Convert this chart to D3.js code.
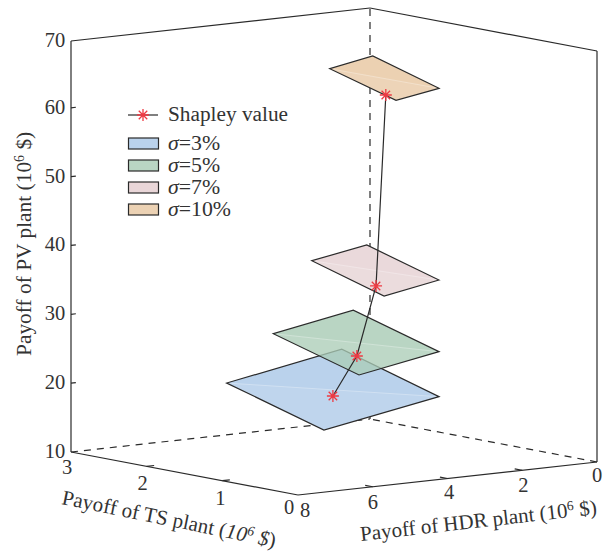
<!DOCTYPE html>
<html lang="en">
<head>
    <meta charset="UTF-8">
    <title>Shapley value payoffs</title>
    <script src="https://d3js.org/d3.v7.min.js"></script>
    <style>
        html, body {margin: 0; padding: 0; background: #fff;}
        text {font-family: "Liberation Serif", serif; fill: #333;}
    </style>
</head>
<body>
    <div id="plot"></div>

    <script>
        // axis ticks
        let hdrTicks = [0, 2, 4, 6, 8];
        let tsTicks = [0, 1, 2, 3];
        let pvTicks = [10, 20, 30, 40, 50, 60, 70];

        // corners of each sigma patch, order: right, bottom, left, top
        let blueHdr = [2, 5.08, 5.08, 2];
        let greenHdr = [2, 4.14, 4.14, 2];
        let pinkHdr = [2, 3.47, 3.47, 2];
        let orangeHdr = [2, 3.15, 3.15, 2];
        let blueTs = [1.1, 1.1, 2.385, 2.385];
        let greenTs = [1.1, 1.1, 2.233, 2.233];
        let pinkTs = [1.1, 1.1, 2.055, 2.055];
        let orangeTs = [1.1, 1.1, 1.976, 1.976];
        let bluePv = [18.40, 15.40, 19.55, 22.61];
        let greenPv = [24.93, 22.83, 26.47, 28.59];
        let pinkPv = [35.34, 33.90, 37.04, 38.44];
        let orangePv = [63.19, 62.14, 64.90, 66.06];

        // Shapley values for sigma = 3, 5, 7, 10 %
        let shapleyHdr = [3.76, 3.52, 3.26, 3.14];
        let shapleyTs = [1.633, 1.435, 1.31, 1.24];
        let shapleyPv = [18.44, 24.52, 34.80, 62.61];

        let sigmaLabels = ['=3%', '=5%', '=7%', '=10%'];
        let patchColors = ['#bad2ec', '#a2c7af', '#e5cfd2', '#e9c9a4'];
        let patchAlpha = [1, 0.75, 0.8, 0.85];

        let patches = [
            {hdr: blueHdr, ts: blueTs, pv: bluePv},
            {hdr: greenHdr, ts: greenTs, pv: greenPv},
            {hdr: pinkHdr, ts: pinkTs, pv: pinkPv},
            {hdr: orangeHdr, ts: orangeTs, pv: orangePv}
        ];

        let svg = d3.select('#plot')
                    .append('svg')
                        .attr('width', 611)
                        .attr('height', 554)
                        .style('display', 'block');

        // fixed view: every data axis adds its own screen offset
        let hdrX = d3.scaleLinear().domain([0, 8]).range([597, 298]);
        let hdrY = d3.scaleLinear().domain([0, 8]).range([462, 495]);
        let tsX = d3.scaleLinear().domain([0, 3]).range([0, -227]);
        let tsY = d3.scaleLinear().domain([0, 3]).range([0, -43]);
        let pvY = d3.scaleLinear().domain([10, 69.7]).range([0, -411]);

        function project(h, t, p){
            return [hdrX(h) + tsX(t), hdrY(h) + tsY(t) + pvY(p)];
        }
        let line = d3.line();
        let ink = '#2a2a2a';

        function seg(g, a, b, dash){
            g.append('path')
                .attr('d', line([a, b]))
                .attr('fill', 'none')
                .attr('stroke', ink)
                .attr('stroke-width', 1.2)
                .attr('stroke-dasharray', dash ? '7,6' : null);
        }

        let box = svg.append('g');
        let pvTop = pvY.domain()[1];

        // hidden edges at the back corner
        seg(box, project(0, 3, 10), project(0, 3, pvTop), true);
        seg(box, project(8, 3, 10), project(0, 3, 10), true);
        seg(box, project(0, 0, 10), project(0, 3, 10), true);

        // outline
        seg(box, project(8, 3, pvTop), project(8, 3, 10));
        seg(box, project(8, 3, 10), project(8, 0, 10));
        seg(box, project(8, 0, 10), project(0, 0, 10));
        seg(box, project(0, 0, 10), project(0, 0, pvTop));
        seg(box, project(8, 3, pvTop), project(0, 3, pvTop));
        seg(box, project(0, 3, pvTop), project(0, 0, pvTop));

        // ticks
        pvTicks.filter(d => d > 10 && d < 70).forEach(function(d){
            seg(box, project(8, 3, d), project(7.87, 3, d));
        });
        tsTicks.filter(d => d > 0 && d < 3).forEach(function(d){
            seg(box, project(8, d, 10), project(7.8, d, 10));
        });
        hdrTicks.filter(d => d > 0 && d < 8).forEach(function(d){
            seg(box, project(d, 0, 10), project(d, 0.1, 10));
        });

        // tick labels
        function tickLabel(p, txt, dx, dy){
            svg.append('text')
                .attr('x', p[0] + dx)
                .attr('y', p[1] + dy)
                .attr('text-anchor', 'middle')
                .attr('dominant-baseline', 'central')
                .attr('font-size', 20.5)
                .text(txt);
        }
        pvTicks.forEach(function(d){
            let p = project(8, 3, Math.min(d, pvTop));
            tickLabel(p, d, -16, -1);
        });
        let tsNudge = {3: [-4, 15], 2: [-4, 17], 1: [-2, 17], 0: [-9, 12]};
        tsTicks.forEach(function(d){
            tickLabel(project(8, d, 10), d, tsNudge[d][0], tsNudge[d][1]);
        });
        let hdrNudge = {8: [7, 15], 6: [0, 15], 4: [1.5, 13], 2: [1, 15], 0: [0, 13]};
        hdrTicks.forEach(function(d){
            tickLabel(project(d, 0, 10), d, hdrNudge[d][0], hdrNudge[d][1]);
        });

        // axis titles
        function axisTitle(x, y, angle, size, name, italicUnit){
            let t = svg.append('text')
                .attr('transform', 'translate(' + x + ', ' + y + ') rotate(' + angle + ')')
                .attr('font-size', size);
            t.append('tspan').text(name + ' (');
            let unit = t.append('tspan').attr('font-style', italicUnit ? 'italic' : null);
            unit.append('tspan').text('10');
            unit.append('tspan').attr('font-size', size * 0.65).attr('dy', -7).text('6');
            unit.append('tspan').attr('dy', 7).text(' $');
            t.append('tspan').text(')');
        }
        axisTitle(31, 356, -90, 21.4, 'Payoff of PV plant', false);
        axisTitle(61, 504, 11.5, 21, 'Payoff of TS plant', true);
        axisTitle(361, 541, -6.5, 21, 'Payoff of HDR plant', false);

        // patches: white base first so the dashed edges stay hidden
        patches.forEach(function(d){
            let pts = d.hdr.map((h, k) => project(h, d.ts[k], d.pv[k]));
            svg.append('path')
                .attr('d', line(pts) + 'Z')
                .attr('fill', '#fff');
        });
        patches.forEach(function(d, i){
            let pts = d.hdr.map((h, k) => project(h, d.ts[k], d.pv[k]));
            let g = svg.append('g');
            // two triangles, the lower one slightly paler
            g.append('path')
                .attr('d', line(pts) + 'Z')
                .attr('fill', patchColors[i])
                .attr('fill-opacity', patchAlpha[i])
                .attr('stroke', 'none');
            g.append('path')
                .attr('d', line([pts[0], pts[1], pts[2]]) + 'Z')
                .attr('fill', '#fff')
                .attr('fill-opacity', 0.08);
            g.append('path')
                .attr('d', line([pts[0], pts[2]]))
                .attr('stroke', '#fff')
                .attr('stroke-opacity', 0.3)
                .attr('stroke-width', 1);
            g.append('path')
                .attr('d', line(pts) + 'Z')
                .attr('fill', 'none')
                .attr('stroke', ink)
                .attr('stroke-width', 1.2);
        });

        // Shapley path and markers
        let shapleyPts = shapleyHdr.map((h, k) => project(h, shapleyTs[k], shapleyPv[k]));

        function star(p, r){
            let path = d3.path();
            d3.range(4).forEach(function(k){
                let a = k * Math.PI / 4;
                path.moveTo(p[0] - r * Math.cos(a), p[1] - r * Math.sin(a));
                path.lineTo(p[0] + r * Math.cos(a), p[1] + r * Math.sin(a));
            });
            svg.append('path')
                .attr('d', path.toString())
                .attr('fill', 'none')
                .attr('stroke', '#ee3a43')
                .attr('stroke-width', 1.3);
        }

        svg.append('path')
            .attr('d', line(shapleyPts))
            .attr('fill', 'none')
            .attr('stroke', ink)
            .attr('stroke-width', 1.2);
        shapleyPts.forEach(p => star(p, 6));

        // legend
        seg(svg, [128, 115], [158, 115]);
        star([143, 115], 6);
        svg.append('text')
            .attr('x', 168)
            .attr('y', 121)
            .attr('font-size', 21.3)
            .text('Shapley value');

        let legendColors = ['#bad2ec', '#b9d5c3', '#e9d6d8', '#ecd2b4'];
        let legendY = d3.scalePoint().domain(sigmaLabels).range([143.5, 209.5]);
        sigmaLabels.forEach(function(d, i){
            svg.append('rect')
                .attr('x', 128.5)
                .attr('y', legendY(d) - 5.5)
                .attr('width', 30)
                .attr('height', 11)
                .attr('fill', legendColors[i])
                .attr('stroke', ink)
                .attr('stroke-width', 1.2);
            let t = svg.append('text')
                .attr('x', 168)
                .attr('y', legendY(d) + 6)
                .attr('font-size', 21.8);
            t.append('tspan').attr('font-style', 'italic').text('σ');
            t.append('tspan').text(d);
        });
    </script>
</body>
</html>
